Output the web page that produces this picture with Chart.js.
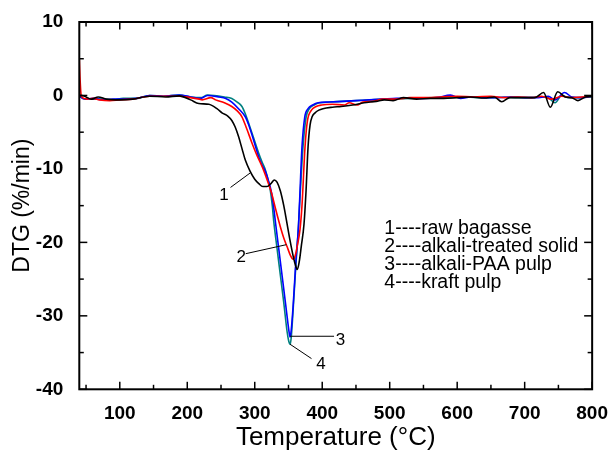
<!DOCTYPE html>
<html>
<head>
<meta charset="utf-8">
<script src="https://cdn.jsdelivr.net/npm/chart.js@4/dist/chart.umd.min.js"></script>
<style>
html,body{margin:0;padding:0;background:#fff;}
canvas{display:block;}
</style>
</head>
<body>
<canvas id="c" width="613" height="452"></canvas>
<script>
// ---- data (temperature in °C, DTG in %/min) ----
const rawT   = [40,44,50,58,68,80,100,119,144,168,188,205,217,232,244,252,260,266,271,276,281,286,293,300,306,312,318,324,329,333,338,343,347,352,357,361,363,366,369,373,376,379,382,385,389,395,401,415,428,445,462,480,492,505,520,540,560,580,600,620,640,655,666,678,700,715,728,738,749,760,770,779,790,800];
const rawDTG = [0.0,0.0,-0.2,-0.5,-0.2,-0.5,-0.6,-0.5,-0.1,-0.2,-0.05,-0.6,-1.1,-1.2,-1.8,-2.4,-2.8,-3.4,-4.3,-5.6,-7.2,-8.8,-10.3,-11.4,-12.0,-12.4,-12.4,-12.0,-11.5,-11.8,-13.0,-15.0,-17.0,-19.6,-21.9,-23.3,-23.7,-22.6,-20.5,-17.5,-13.0,-7.0,-4.0,-2.9,-2.4,-2.0,-1.8,-1.6,-1.5,-1.3,-1.0,-0.8,-0.6,-0.7,-0.3,-0.5,-0.4,-0.4,-0.3,-0.2,-0.35,-0.2,-0.85,-0.3,-0.3,-0.3,0.4,-1.6,0.5,-0.2,-0.3,-0.7,-0.2,-0.1];

const alkT   = [40,41,43,51,60,70,85,100,119,144,165,188,205,218,222,235,242,255,266,274,281,288,296,303,311,318,325,331,338,343,348,353,357,360,363,367,370,374.5,378,384,391,399,415,433,440,452,460,475,490,510,530,550,575,600,625,650,670,690,710,725,740,755,770,785,800];
const alkDTG = [5.0,2.5,-0.1,-0.5,-0.4,-0.6,-0.7,-0.6,-0.5,-0.1,-0.1,-0.1,-0.3,-0.5,-0.6,-0.3,-0.6,-1.0,-1.5,-2.1,-2.9,-4.5,-6.5,-8.1,-9.7,-11.4,-13.3,-15.5,-17.9,-19.4,-20.6,-21.8,-22.3,-21.8,-20.5,-18.3,-15.0,-7.0,-3.5,-2.0,-1.5,-1.3,-1.2,-1.3,-1.0,-1.3,-0.9,-0.8,-0.5,-0.5,-0.3,-0.3,-0.2,-0.1,-0.2,-0.1,-0.3,-0.2,-0.3,-0.1,-0.5,-0.1,-0.3,-0.2,-0.1];

const paaT   = [40,42,50,60,75,90,105,125,144,165,188,205,220,230,247,257,266,276,286,291,296,301,306,311,316,321,325,328,331,336,341,346,349,351,352.3,354,357,361,365,368,370,374,379,386,394,410,430,450,470,490,510,530,550,570,590,605,620,640,660,680,700,720,735,745,759,770,785,800];
const paaDTG = [0.2,-0.2,-0.5,-0.4,-0.6,-0.5,-0.5,-0.4,0.0,-0.1,0.05,-0.2,-0.4,0.0,-0.2,-0.4,-0.9,-1.8,-2.9,-4.0,-5.4,-6.9,-8.4,-9.5,-10.4,-11.8,-13.3,-15.2,-17.5,-21.2,-24.9,-28.6,-30.9,-32.3,-32.9,-32.0,-28.5,-22.5,-17.5,-11.0,-7.0,-3.0,-1.8,-1.3,-1.0,-0.9,-0.8,-0.7,-0.6,-0.5,-0.4,-0.35,-0.4,-0.3,0.05,-0.4,-0.2,-0.3,-0.3,-0.2,-0.3,-0.3,-0.1,-0.6,0.4,-0.2,-0.3,-0.1];

const kraftT   = [40,42,50,60,75,90,105,125,144,165,188,205,220,230,240,255,266,274,281,286,291,298,306,311,316,320,323,326,328,333,338,343,348,350.5,352.3,354,357,361,364,367,371.5,376,381,388,396,412,430,450,470,490,510,530,550,570,590,610,630,650,670,690,710,725,735,745,755,765,780,800];
const kraftDTG = [0.3,-0.2,-0.5,-0.5,-0.5,-0.6,-0.4,-0.4,0.0,-0.1,0.05,-0.2,-0.3,0.05,0.0,-0.2,-0.4,-0.9,-1.5,-2.5,-3.8,-5.7,-7.9,-9.1,-10.2,-11.6,-12.9,-15.0,-17.0,-20.8,-24.5,-28.2,-32.2,-33.5,-33.9,-33.0,-29.0,-23.0,-19.0,-14.0,-7.0,-3.0,-1.8,-1.3,-1.0,-0.9,-0.8,-0.7,-0.6,-0.5,-0.45,-0.4,-0.35,-0.3,-0.3,-0.2,-0.3,-0.3,-0.25,-0.3,-0.3,-0.2,-0.3,-1.0,0.0,-0.3,-0.3,-0.2];

const xTickValues  = [100,200,300,400,500,600,700,800];
const xMinorValues = [50,150,250,350,450,550,650,750];
const yTickValues  = [-40,-30,-20,-10,0,10];
const yMinorValues = [-35,-25,-15,-5,5];

const seriesNames = ['raw bagasse','alkali-treated solid','alkali-PAA pulp','kraft pulp'];
const legendLines = ['1----raw bagasse','2----alkali-treated solid','3----alkali-PAA pulp','4----kraft pulp'];

// curve labels: number text with leader line (data coordinates)
const curveLabels = [
  {text:'1', tx:254.3, ty:-14.25, from:[264.1,-12.52], to:[293.5,-10.53]},
  {text:'2', tx:280.0, ty:-22.7,  from:[286.6,-21.54], to:[346.9,-20.31]},
  {text:'3', tx:427.0, ty:-34.0,  from:[417.5,-32.78], to:[352.4,-32.78]},
  {text:'4', tx:398.0, ty:-37.3,  from:[384.1,-35.82], to:[352.4,-33.87]}
];
const legendAnchor = {x:492, y:-18.8};

const FONT = '"Liberation Sans", Arial, Helvetica, sans-serif';
const pts = (t,v) => t.map((x,i)=>({x:x,y:v[i]}));

const decor = {
  id:'decor',
  afterDatasetsDraw(chart){
    const {ctx, chartArea:{left,right,top,bottom}, scales:{x,y}} = chart;
    ctx.save();
    ctx.strokeStyle = '#000';
    ctx.lineCap = 'butt';
    const seg = (x1,y1,x2,y2)=>{ctx.beginPath();ctx.moveTo(x1,y1);ctx.lineTo(x2,y2);ctx.stroke();};
    ctx.lineWidth = 1.5;
    xTickValues.forEach(v=>{const p=x.getPixelForValue(v); seg(p,bottom,p,bottom-7.5); seg(p,top,p,top+7.5);});
    xMinorValues.forEach(v=>{const p=x.getPixelForValue(v); seg(p,bottom,p,bottom-4.5); seg(p,top,p,top+4.5);});
    yTickValues.forEach(v=>{const p=y.getPixelForValue(v); seg(left,p,left+8,p); seg(right,p,right-8,p);});
    yMinorValues.forEach(v=>{const p=y.getPixelForValue(v); seg(left,p,left+4.5,p); seg(right,p,right-4.5,p);});
    ctx.lineWidth = 2;
    ctx.strokeRect(left,top,right-left,bottom-top);

    // curve number labels
    ctx.lineWidth = 1;
    ctx.fillStyle = '#000';
    ctx.font = '17px ' + FONT;
    ctx.textAlign = 'center';
    ctx.textBaseline = 'alphabetic';
    curveLabels.forEach(l=>{
      seg(x.getPixelForValue(l.from[0]), y.getPixelForValue(l.from[1]), x.getPixelForValue(l.to[0]), y.getPixelForValue(l.to[1]));
      ctx.fillText(l.text, x.getPixelForValue(l.tx), y.getPixelForValue(l.ty));
    });

    // text legend
    ctx.font = '19.5px ' + FONT;
    ctx.textAlign = 'left';
    const lx = x.getPixelForValue(legendAnchor.x), ly = y.getPixelForValue(legendAnchor.y);
    legendLines.forEach((s,i)=>ctx.fillText(s, lx, ly + i*18.3));
    ctx.restore();
  }
};

new Chart(document.getElementById('c'), {
  type:'line',
  data:{
    datasets:[
      {label:seriesNames[0], data:pts(rawT,rawDTG), borderColor:'#000000'},
      {label:seriesNames[1], data:pts(alkT,alkDTG), borderColor:'#ff0000'},
      {label:seriesNames[2], data:pts(paaT,paaDTG), borderColor:'#0000ff'},
      {label:seriesNames[3], data:pts(kraftT,kraftDTG), borderColor:'#008080'}
    ].map(d=>Object.assign(d,{borderWidth:1.6, pointRadius:0, fill:false, cubicInterpolationMode:'monotone'}))
  },
  options:{
    responsive:false,
    devicePixelRatio:1,
    animation:false,
    layout:{padding:{left:0, top:22, right:17, bottom:0}},
    plugins:{legend:{display:false}, tooltip:{enabled:false}},
    scales:{
      x:{
        type:'linear', min:40, max:800,
        afterBuildTicks:s=>{s.ticks = xTickValues.map(v=>({value:v}));},
        afterFit:s=>{s.height = 62.7;},
        grid:{display:false}, border:{display:false},
        ticks:{color:'#000', padding:5, maxRotation:0, autoSkip:false, font:{family:FONT, size:19, weight:'bold'}},
        title:{display:true, text:'Temperature (°C)', color:'#000', font:{family:FONT, size:26, lineHeight:1}, padding:{top:0, bottom:1}}
      },
      y:{
        type:'linear', min:-40, max:10,
        afterBuildTicks:s=>{s.ticks = yTickValues.map(v=>({value:v}));},
        afterFit:s=>{s.width = 79.3;},
        grid:{display:false}, border:{display:false},
        ticks:{color:'#000', padding:8, autoSkip:false, font:{family:FONT, size:19, weight:'bold'}},
        title:{display:true, text:'DTG (%/min)', color:'#000', font:{family:FONT, size:23, lineHeight:1}, padding:{top:11.5, bottom:0}}
      }
    }
  },
  plugins:[decor]
});
</script>
</body>
</html>
